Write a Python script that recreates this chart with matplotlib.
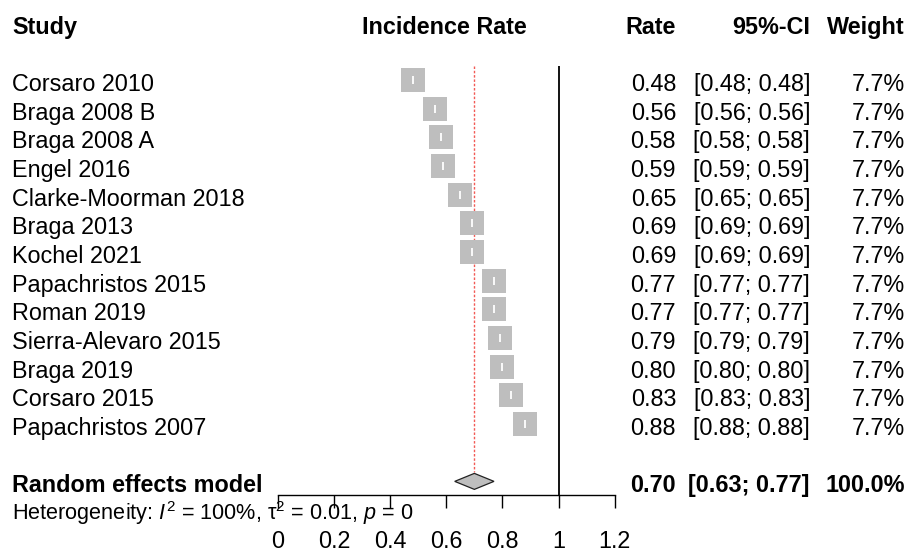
import matplotlib
matplotlib.use("Agg")
import matplotlib.pyplot as plt
import matplotlib.transforms as mtransforms

plt.rcParams["font.family"] = ["Liberation Sans", "DejaVu Sans"]
plt.rcParams["mathtext.fontset"] = "custom"
plt.rcParams["mathtext.rm"] = "Liberation Sans"
plt.rcParams["mathtext.it"] = "Liberation Sans:italic"
plt.rcParams["mathtext.bf"] = "Liberation Sans:bold"

# Study-level incidence rates
studies = [
    "Corsaro 2010", "Braga 2008 B", "Braga 2008 A", "Engel 2016",
    "Clarke-Moorman 2018", "Braga 2013", "Kochel 2021", "Papachristos 2015",
    "Roman 2019", "Sierra-Alevaro 2015", "Braga 2019", "Corsaro 2015",
    "Papachristos 2007",
]
rates = [0.48, 0.56, 0.58, 0.59, 0.65, 0.69, 0.69, 0.77, 0.77, 0.79, 0.80, 0.83, 0.88]
ci_low = [0.48, 0.56, 0.58, 0.59, 0.65, 0.69, 0.69, 0.77, 0.77, 0.79, 0.80, 0.83, 0.88]
ci_high = [0.48, 0.56, 0.58, 0.59, 0.65, 0.69, 0.69, 0.77, 0.77, 0.79, 0.80, 0.83, 0.88]
weights = [7.7, 7.7, 7.7, 7.7, 7.7, 7.7, 7.7, 7.7, 7.7, 7.7, 7.7, 7.7, 7.7]

# Random effects summary
re_rate = 0.70
re_low = 0.63
re_high = 0.77
re_weight = 100.0
heterogeneity = r"Heterogeneity: $I^2$ = 100%, τ${}^{2}$ = 0.01, $p$ = 0"

x_ticks = [0, 0.2, 0.4, 0.6, 0.8, 1, 1.2]
x_ticklabels = ["0", "0.2", "0.4", "0.6", "0.8", "1", "1.2"]

W, H, DPI = 910, 551, 100
fig = plt.figure(figsize=(W / DPI, H / DPI), dpi=DPI)

# forest panel geometry (pixels from the top-left corner)
row0_px, row_step = 80.0, 28.67
axis_px = 495.0
x0_px, unit_px = 278.0, 280.5
left = x0_px / W
width = 1.2 * unit_px / W
bottom = (H - axis_px) / H
ax = fig.add_axes([left, bottom, width, 1 - bottom])
ax.set_xlim(0, 1.2)
ax.set_ylim((axis_px - row0_px) / row_step, -row0_px / row_step)

for s in ("top", "left", "right"):
    ax.spines[s].set_visible(False)
ax.spines["bottom"].set_linewidth(1.0)
ax.set_yticks([])
ax.set_xticks(x_ticks)
ax.set_xticklabels(x_ticklabels)
ax.tick_params(axis="x", direction="out", length=9.4, width=1.0,
               pad=15.5, labelsize=16.8)

n = len(studies)
rows = list(range(n))
summary_row = n + 1
header_row = -2
diamond_half = 8.0 / row_step

# reference lines
ax.plot([1, 1], [-0.5, (axis_px - row0_px) / row_step], color="black",
        lw=1.3, clip_on=False, solid_capstyle="butt")
ax.plot([re_rate, re_rate], [-0.5, summary_row - diamond_half - 0.05],
        color="#f25a55", lw=1.0, dashes=(1.8, 1.3), clip_on=False)

# study squares with their (zero-width) intervals
ax.plot(rates, rows, linestyle="none", marker="s", markersize=17.3,
        markerfacecolor="#bebebe", markeredgewidth=0, clip_on=False)
for lo, hi, r in zip(ci_low, ci_high, rows):
    ax.plot([lo, hi], [r, r], color="white", lw=1.2, clip_on=False)
ax.plot(rates, rows, linestyle="none", marker="|", markersize=5.2,
        markeredgewidth=1.3, color="white", clip_on=False)

# summary diamond
ax.fill([re_low, re_rate, re_high, re_rate],
        [summary_row, summary_row - diamond_half, summary_row, summary_row + diamond_half],
        facecolor="#bebebe", edgecolor="#222222", lw=0.9, clip_on=False)

# text columns
tx = mtransforms.blended_transform_factory(fig.transFigure, ax.transData)
fs = 16.8
base = 11.0 / row_step


def put(px, row, s, ha="left", weight="normal", size=fs):
    ax.text(px / W, row + base, s, transform=tx, ha=ha, va="baseline",
            fontsize=size, fontweight=weight, clip_on=False)


put(12, header_row, "Study", weight="bold")
put(444, header_row, "Incidence Rate", ha="center", weight="bold")
put(676, header_row, "Rate", ha="right", weight="bold")
put(810, header_row, "95%-CI", ha="right", weight="bold")
put(905, header_row, "Weight", ha="right", weight="bold")

for name, r, lo, hi, w, row in zip(studies, rates, ci_low, ci_high, weights, rows):
    put(12, row, name)
    put(676, row, f"{r:.2f}", ha="right")
    put(810, row, f"[{lo:.2f}; {hi:.2f}]", ha="right")
    put(905, row, f"{w:.1f}%", ha="right")

put(12, summary_row, "Random effects model", weight="bold")
put(676, summary_row, f"{re_rate:.2f}", ha="right", weight="bold")
put(810, summary_row, f"[{re_low:.2f}; {re_high:.2f}]", ha="right", weight="bold")
put(905, summary_row, f"{re_weight:.1f}%", ha="right", weight="bold")

ax.text(12 / W, (520 - row0_px) / row_step, heterogeneity, transform=tx,
        ha="left", va="baseline", fontsize=15.6, clip_on=False)

fig.savefig("out.png", dpi=DPI)
